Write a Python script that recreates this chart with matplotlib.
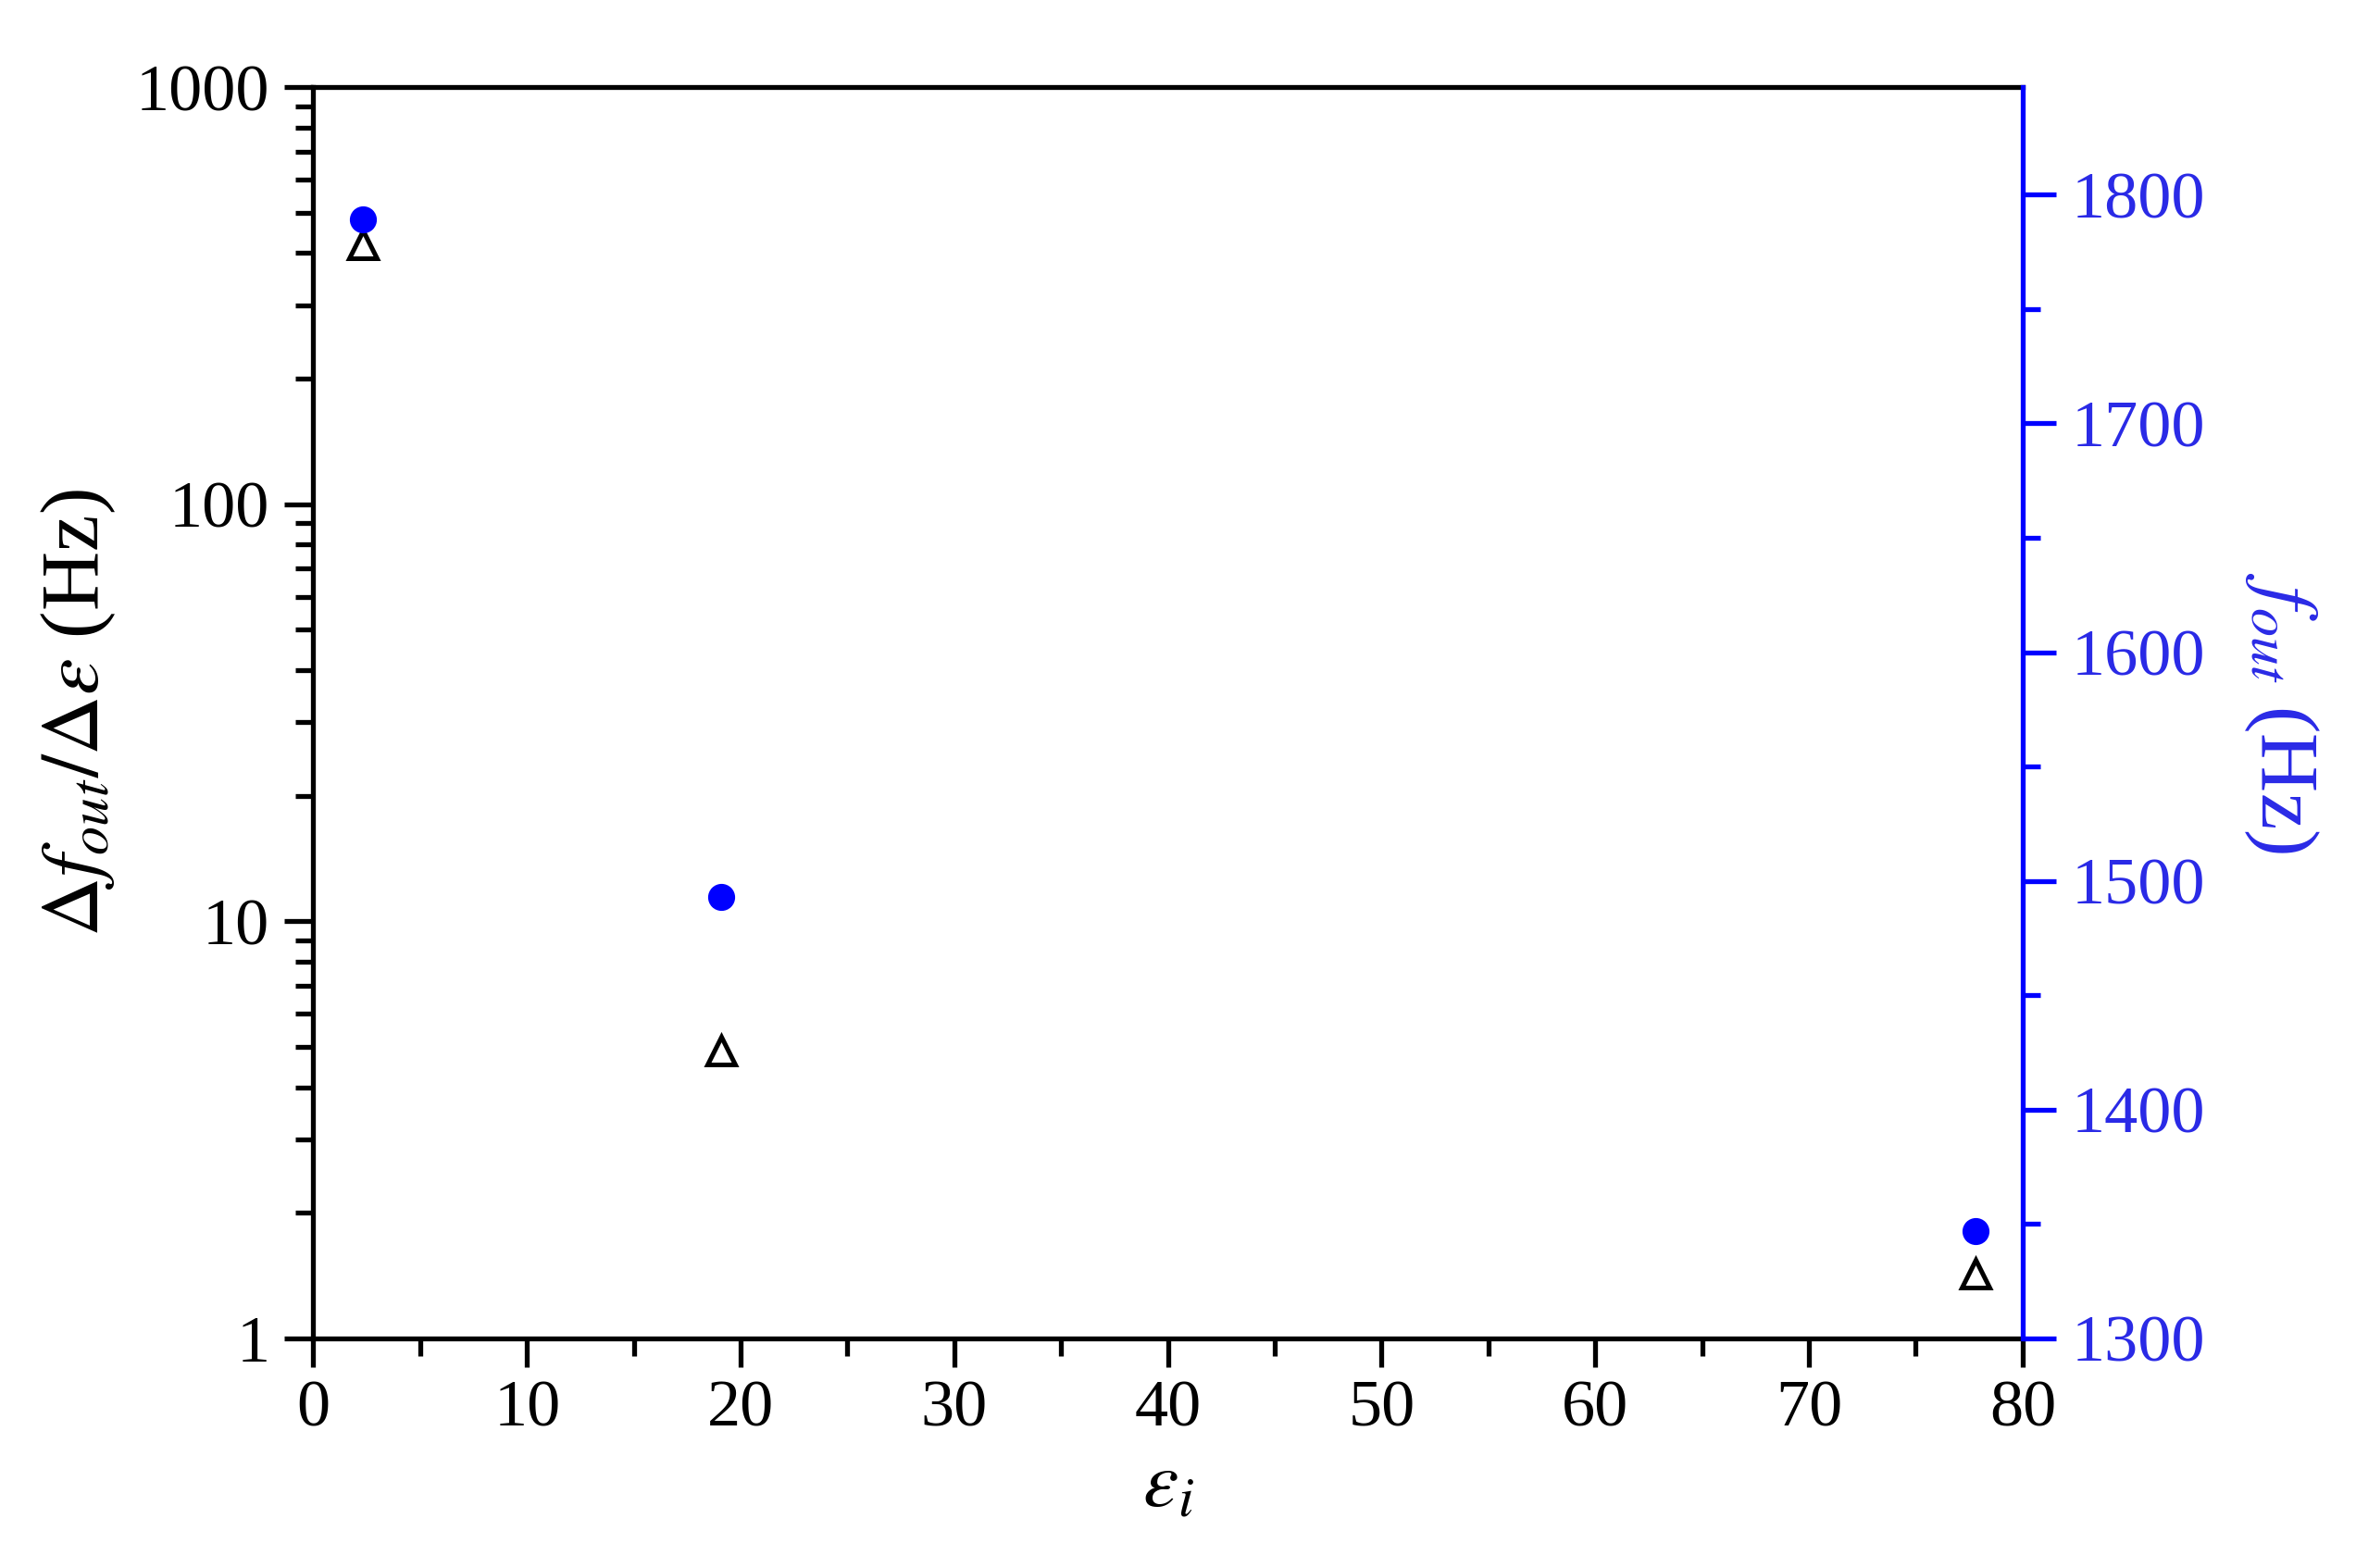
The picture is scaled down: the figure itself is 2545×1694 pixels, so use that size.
import numpy as np
import matplotlib
matplotlib.use("Agg")
import matplotlib.pyplot as plt
from matplotlib.ticker import MultipleLocator, LogLocator, NullFormatter, FixedLocator

# dielectric constant of each solvent
eps_i = [2.3, 19.1, 77.8]
# sensitivity (left, log axis)
sens = [420, 4.9, 1.43]
# output frequency (right axis)
f_out = [1789, 1493, 1347]

plt.rcParams['font.family'] = ['Liberation Serif', 'DejaVu Serif']
plt.rcParams['mathtext.fontset'] = 'stix'

blue = '#0000ff'
blue_txt = '#2a2ae6'
lw = 3.8

fig = plt.figure(figsize=(25.45, 16.94), dpi=100)
ax = fig.add_axes([0.133, 0.1464, 0.7255, 0.7981])
ax2 = ax.twinx()

# left axis data
ax.plot(eps_i, sens, linestyle='none', marker='^', markersize=21,
        markerfacecolor='white', markeredgecolor='black', markeredgewidth=3.6, zorder=3)
ax.set_yscale('log')
ax.set_ylim(1, 1000)
ax.set_xlim(0, 80)
ax.xaxis.set_major_locator(MultipleLocator(10))
ax.xaxis.set_minor_locator(MultipleLocator(5))
ax.yaxis.set_major_locator(FixedLocator([1, 10, 100, 1000]))
ax.yaxis.set_minor_locator(LogLocator(base=10, subs=np.arange(2, 10), numticks=20))
ax.yaxis.set_minor_formatter(NullFormatter())
ax.set_yticklabels(['1', '10', '100', '1000'])

ax.tick_params(axis='both', which='major', direction='out', length=22, width=lw,
               labelsize=52, colors='black')
ax.tick_params(axis='both', which='minor', direction='out', length=14, width=lw)
ax.tick_params(axis='x', which='both', top=False, pad=10)
ax.tick_params(axis='y', which='both', right=False, pad=12)
for s in ['left', 'top', 'bottom']:
    ax.spines[s].set_linewidth(lw)
    ax.spines[s].set_color('black')
ax.spines['right'].set_visible(False)

ax.set_xlabel(r'$\varepsilon_i$', fontsize=62, labelpad=8)
ax.set_ylabel(r'$\Delta f_{out}/\Delta\varepsilon$ (Hz)', fontsize=64, labelpad=14)

# right axis data
ax2.plot(eps_i, f_out, linestyle='none', marker='o', markersize=20,
         markerfacecolor=blue, markeredgecolor=blue, zorder=4)
ax2.set_ylim(1300, 1847)
ax2.yaxis.set_major_locator(MultipleLocator(100))
ax2.yaxis.set_minor_locator(MultipleLocator(50))
ax2.tick_params(axis='y', which='major', direction='out', length=26, width=lw,
                labelsize=52, colors=blue, labelcolor=blue_txt, pad=12)
ax2.tick_params(axis='y', which='minor', direction='out', length=14, width=lw, colors=blue)
for s in ['left', 'top', 'bottom']:
    ax2.spines[s].set_visible(False)
ax2.spines['right'].set_color(blue)
ax2.spines['right'].set_linewidth(lw)
ax2.set_ylabel(r'$f_{out}$ (Hz)', fontsize=64, color=blue_txt, rotation=270, labelpad=90)

fig.savefig('out.png', dpi=100, facecolor='white')
